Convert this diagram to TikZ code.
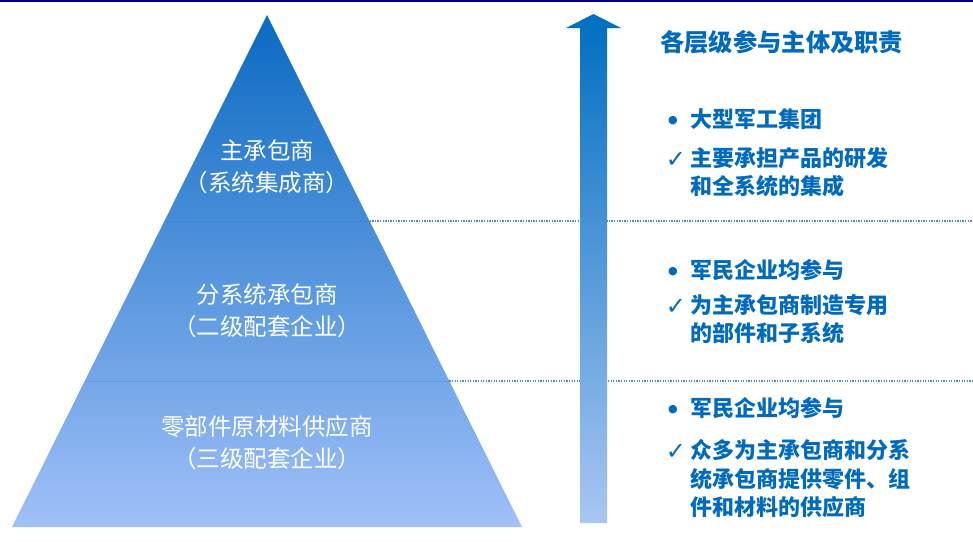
\documentclass[tikz,border=0pt]{standalone}
\usepackage{fontspec}
\setmainfont{Noto Sans CJK SC}
\newfontfamily\symfont{DejaVu Sans}
\definecolor{navy}{RGB}{0,0,128}
\definecolor{pyrtop}{RGB}{10,106,194}
\definecolor{pyrbot}{RGB}{160,192,248}
\definecolor{arrtop}{RGB}{0,110,192}
\definecolor{arrbot}{RGB}{168,198,242}
\definecolor{txtblue}{RGB}{0,106,190}
\definecolor{dotblue}{RGB}{70,140,200}
\tikzset{
  pyrtext/.style={text=white, font=\fontsize{23.5}{32}\selectfont, align=center, anchor=base, inner sep=0pt},
  righttext/.style={text=txtblue, font=\fontsize{22}{28.5}\selectfont\bfseries, align=left, anchor=base west, inner sep=0pt},
  bulletmark/.style={text=txtblue, font=\symfont\fontsize{11}{11}\selectfont, anchor=base, inner sep=0pt},
  checkmark/.style={text=txtblue, font=\symfont\fontsize{24}{24}\selectfont, anchor=base, inner sep=0pt},
  dotline/.style={draw=dotblue, line width=1.3pt, dash pattern=on 1.3pt off 1.3pt},
  bandsep/.style={draw=pyrtop, line width=0.8pt, opacity=0.2}
}
\begin{document}
\begin{tikzpicture}[x=1pt,y=-1pt]
\useasboundingbox (0,0) rectangle (973,541);
\fill[white] (0,0) rectangle (973,541);
\draw[navy, line width=1.6pt] (0,0.8) -- (973,0.8);
% pyramid
\coordinate (apex) at (267,15);
\coordinate (bl) at (12,527);
\coordinate (br) at (522,527);
\shade[top color=pyrtop, bottom color=pyrbot] (apex) -- (br) -- (bl) -- cycle;
\coordinate (s1l) at (164.4,221);
\coordinate (s1r) at (369.6,221);
\coordinate (s2l) at (84.7,381);
\coordinate (s2r) at (449.3,381);
\coordinate (e1) at (973,221);
\coordinate (e2) at (973,381);
\draw[bandsep] (s1l) -- (s1r);
\draw[bandsep] (s2l) -- (s2r);
\draw[dotline] (s1r) -- (e1);
\draw[dotline] (s2r) -- (e2);
% pyramid labels (anchor = baseline of last line)
\node[pyrtext] (p1) at (267,191) {主承包商\\（系统集成商）};
\node[pyrtext] (p2) at (267,335) {分系统承包商\\（二级配套企业）};
\node[pyrtext] (p3) at (267,467) {零部件原材料供应商\\（三级配套企业）};
% arrow
\shade[top color=arrtop, bottom color=arrbot] (593.5,14) -- (621,28) -- (607,28) -- (607,523) -- (580,523) -- (580,28) -- (566,28) -- cycle;
% right texts
\node[text=txtblue, font=\fontsize{24.3}{28}\selectfont\bfseries, anchor=base west, inner sep=0pt] (title) at (660,51) {各层级参与主体及职责};
\node[bulletmark] (b1) at (673,123) {●};
\node[righttext] (t1) at (690,127.5) {大型军工集团};
\node[checkmark] (c1) at (676,167) {✓};
\node[righttext, font=\fontsize{22}{28}\selectfont\bfseries] (t2) at (690,194.5) {主要承担产品的研发\\和全系统的集成};
\node[bulletmark] (b2) at (673,274) {●};
\node[righttext] (t3) at (690,278.5) {军民企业均参与};
\node[checkmark] (c2) at (676,314) {✓};
\node[righttext, font=\fontsize{22}{28}\selectfont\bfseries] (t4) at (690,341.5) {为主承包商制造专用\\的部件和子系统};
\node[bulletmark] (b3) at (673,412) {●};
\node[righttext] (t5) at (690,416.5) {军民企业均参与};
\node[checkmark] (c3) at (676,459) {✓};
\node[righttext] (t6) at (690,515.5) {众多为主承包商和分系\\统承包商提供零件、组\\件和材料的供应商};
\end{tikzpicture}
\end{document}
